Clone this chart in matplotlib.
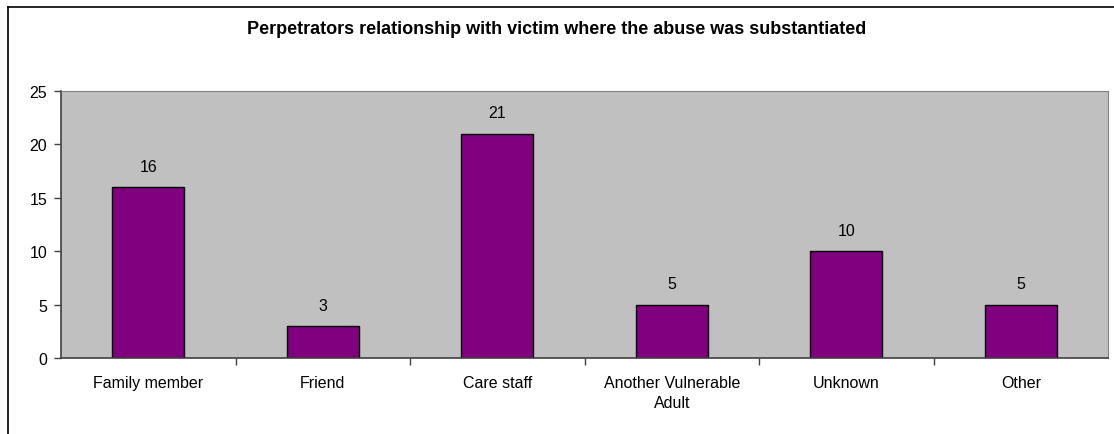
import numpy as np
from matplotlib import pyplot as plt
from matplotlib.lines import Line2D

plt.rcParams.update({
  "font.family": ['Liberation Sans', 'DejaVu Sans'],
  "font.size": 11.5,
})

categories = ['Family member', 'Friend', 'Care staff', 'Another Vulnerable\nAdult', 'Unknown', 'Other']
values = [16, 3, 21, 5, 10, 5]
title = "Perpetrators relationship with victim where the abuse was substantiated"

W, H = 1114, 435
fig = plt.figure(figsize=(W / 100, H / 100), dpi=100)
ax = fig.add_axes([61 / W, 1 - 359 / H, (1108 - 61) / W, (359 - 92) / H])

x = np.arange(len(categories))
bars = ax.bar(x, values, width=0.41, color='#800080', edgecolor='black', linewidth=1.0, zorder=2)

for xi, v in zip(x, values):
    ax.annotate(str(v), (xi, v), xytext=(0, 15), textcoords='offset points',
                ha='center', va='center', fontsize=11.5)

ax.set_facecolor('#C0C0C0')
ax.set_xlim(-0.5, len(categories) - 0.5)
ax.set_ylim(0, 25)
ax.set_yticks(range(0, 26, 5))
ax.set_xticks(x)
ax.set_xticklabels(categories, linespacing=1.45)
ax.set_xticks(np.arange(0.5, len(categories) - 1, 1.0), minor=True)
ax.tick_params(axis='x', which='major', length=0, pad=12)
ax.tick_params(axis='x', which='minor', length=5, width=1, color='#404040', direction='out')
ax.tick_params(axis='y', length=5, width=1, color='#404040', pad=5)

for side in ['left', 'bottom']:
    ax.spines[side].set_color('#404040')
    ax.spines[side].set_linewidth(1.2)
for side in ['top', 'right']:
    ax.spines[side].set_color('#808080')
    ax.spines[side].set_linewidth(0.8)

fig.text(0.5, 1 - 30 / H, title, ha='center', va='center', fontsize=13, fontweight='bold')

# chart border
fig.add_artist(Line2D([8 / W, 1.0], [1 - 8 / H, 1 - 8 / H], color='black', linewidth=1.2))
fig.add_artist(Line2D([8 / W, 8 / W], [0.0, 1 - 8 / H], color='black', linewidth=1.2))

fig.savefig('out.png', dpi=100)
